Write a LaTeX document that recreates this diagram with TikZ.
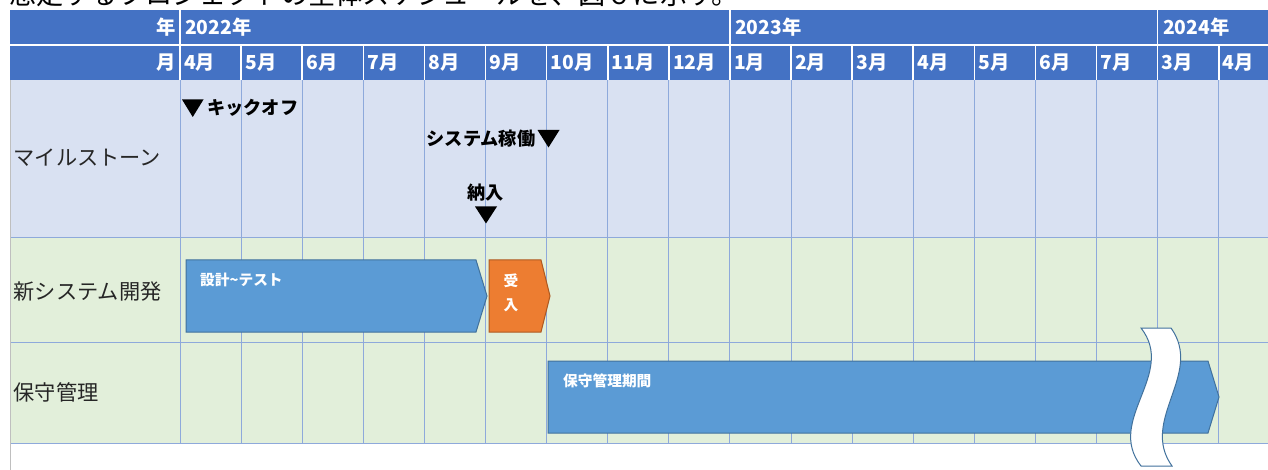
\documentclass[tikz,border=0pt]{standalone}
\usepackage{fontspec}
\setmainfont{Noto Sans CJK JP}
\definecolor{hdr}{HTML}{4472C4}
\definecolor{msrow}{HTML}{D9E1F2}
\definecolor{grrow}{HTML}{E2EFDA}
\definecolor{gridc}{HTML}{8EA9DB}
\definecolor{barblue}{HTML}{5B9BD5}
\definecolor{barline}{HTML}{41719C}
\definecolor{orng}{HTML}{ED7D31}
\definecolor{orngline}{HTML}{AE5A21}
\definecolor{lbl}{HTML}{262626}
\definecolor{edge}{HTML}{BFBFBF}
\tikzset{
  gridline/.style={draw=gridc, line width=1pt},
  hdrline/.style={draw=white, line width=1.6pt},
  hdrtext/.style={inner sep=0pt, text=white, font=\fontsize{19.3}{22}\selectfont\bfseries},
  msttext/.style={inner sep=0pt, text=black, font=\fontsize{18.2}{21}\selectfont\bfseries},
  msttri/.style={fill=black},
  bartext/.style={inner sep=0pt, text=white, font=\fontsize{14.7}{17}\selectfont\bfseries},
  bluebar/.style={fill=barblue, draw=barline, line width=1pt},
  orangebar/.style={fill=orng, draw=orngline, line width=1pt},
  wavebreak/.style={fill=white, draw=barline, line width=1pt},
  rowlab/.style={inner sep=0pt, anchor=west, text=lbl, font=\fontsize{21.2}{24}\selectfont},
}
\begin{document}
\begin{tikzpicture}[x=1pt,y=-1pt]
\useasboundingbox (0,0) rectangle (1268,470);
% cut-off line of text above the table
\begin{scope}
  \clip (0,0) rectangle (1268,9.5);
  \node[anchor=base west, inner sep=0pt, text=black, font=\fontsize{27.2}{30}\selectfont] (intro) at (9,4.5) {想定するプロジェクトの全体スケジュールを、図６に示す。};
\end{scope}
% body rows
\fill[msrow] (10,80) rectangle (1268,238);
\fill[grrow] (10,238) rectangle (1268,443);
\foreach \i in {0,...,17} \draw[gridline] ({180+61.1*\i},80) -- ({180+61.1*\i},443);
\draw[gridline] (10,238) -- (1268,238);
\draw[gridline] (10,342) -- (1268,342);
\draw[gridline] (10,443) -- (1268,443);
\draw[draw=edge, line width=1pt] (10,80) -- (10,470);
% header
\fill[hdr] (10,10) rectangle (1268,80);
\draw[hdrline] (10,45) -- (1268,45);
\foreach \i in {0,...,17} \draw[hdrline] ({180+61.1*\i},45) -- ({180+61.1*\i},80);
\foreach \x in {180,729.9,1157.6} \draw[hdrline] (\x,10) -- (\x,45);
\node[hdrtext, anchor=east] (ylab) at (176,27) {年};
\node[hdrtext, anchor=east] (mlab) at (176,63) {月};
\node[hdrtext, anchor=west] (y22) at (185,27) {2022年};
\node[hdrtext, anchor=west] (y23) at (735,27) {2023年};
\node[hdrtext, anchor=west] (y24) at (1163,27) {2024年};
\foreach \m [count=\i from 0] in {4月,5月,6月,7月,8月,9月,10月,11月,12月,1月,2月,3月,4月,5月,6月,7月,3月,4月}
  \node[hdrtext, anchor=west] (mon\i) at ({184+61.1*\i},63) {\m};
% row labels
\node[rowlab] (lms) at (13.5,158) {マイルストーン};
\node[rowlab] (ldev) at (13.5,292) {新システム開発};
\node[rowlab] (lmnt) at (13.5,392) {保守管理};
% milestones
\fill[msttri] (182,99.5) -- (203.5,99.5) -- (192.75,117) -- cycle;
\node[msttext, anchor=west] (kick) at (207,108) {キックオフ};
\node[msttext, anchor=east] (kado) at (535.5,139) {システム稼働};
\fill[msttri] (537.5,130) -- (559.5,130) -- (548.5,147.5) -- cycle;
\node[msttext] (nyu) at (485.5,193) {納入};
\fill[msttri] (475,206.5) -- (497,206.5) -- (486,223.5) -- cycle;
% bars
\path[bluebar] (186,260) -- (476,260) -- (487,296) -- (476,332) -- (186,332) -- cycle;
\node[bartext, anchor=west] (design) at (200,280) {設計\textasciitilde テスト};
\path[orangebar] (489,260) -- (541,260) -- (550,296) -- (541,332) -- (489,332) -- cycle;
\node[bartext] (acc1) at (511,281) {受};
\node[bartext] (acc2) at (511,305) {入};
\path[bluebar] (548,361) -- (1208,361) -- (1219,397) -- (1208,433) -- (548,433) -- cycle;
\node[bartext, anchor=west] (maint) at (563,381) {保守管理期間};
% wave break mark
\path[wavebreak] (1141,328) -- (1171,328) .. controls (1204,374) and (1139,420) .. (1172,466)
  -- (1141,466) .. controls (1105,420) and (1177,374) .. (1141,328) -- cycle;
\end{tikzpicture}
\end{document}
